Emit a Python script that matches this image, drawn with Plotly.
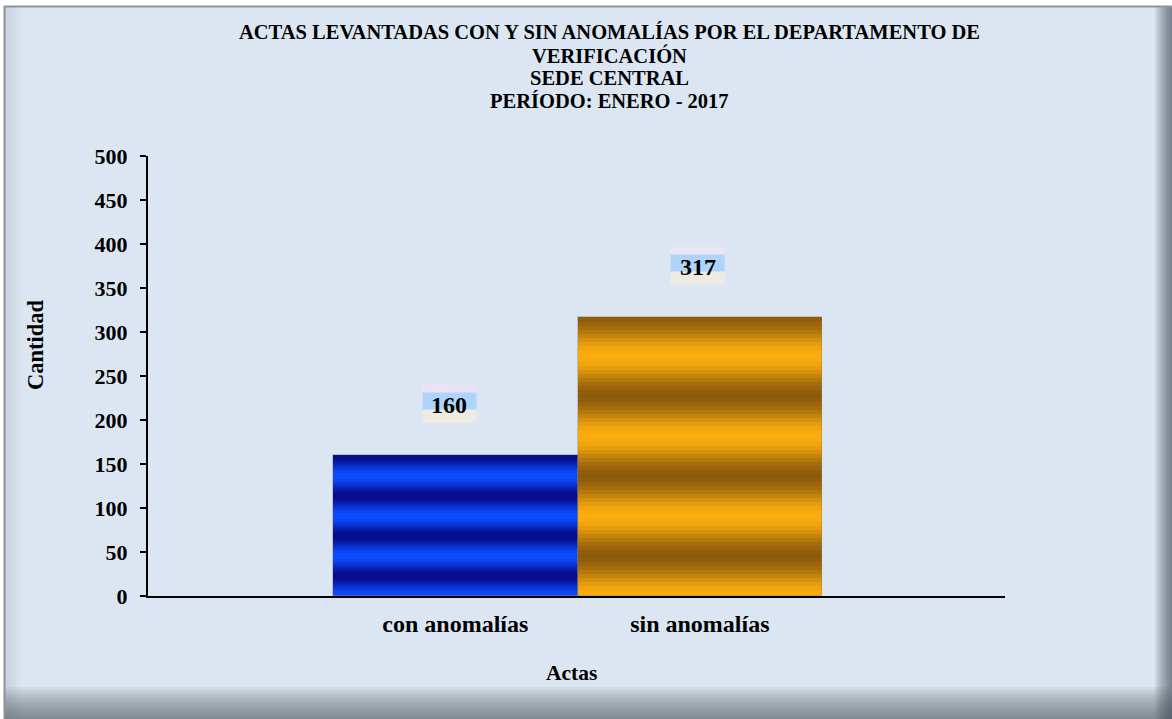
import math
import plotly.graph_objects as go

# ---------------- data ----------------
categories = ["con anomalías", "sin anomalías"]
values = [160, 317]
y_ticks = [0, 50, 100, 150, 200, 250, 300, 350, 400, 450, 500]
title_lines = [
    "ACTAS LEVANTADAS CON Y SIN ANOMALÍAS POR EL DEPARTAMENTO DE",
    "VERIFICACIÓN",
    "SEDE CENTRAL",
    "PERÍODO: ENERO - 2017",
]
x_title = "Actas"
y_title = "Cantidad"

# ---------------- layout geometry ----------------
W, H = 1172, 719
L, R, T, B = 148, 167, 156, 123
PW, PH = W - L - R, H - T - B


def px(x):
    return (x - L) / PW


def py(y):
    return (H - B - y) / PH


FONT = "Liberation Serif, Times New Roman, serif"
BG = "#DCE6F2"

bright = ["#0A4BFF", "#FFAF0B"]
dark = ["#040A88", "#8E5B0A"]
base_col = [bright[0], dark[1]]
stripe_col = [dark[0], bright[1]]
period = [40, 80]

xpos = list(range(len(categories)))

fig = go.Figure()
fig.add_bar(
    x=xpos, y=values, width=1,
    marker=dict(color=base_col, line=dict(width=0)),
    hoverinfo="skip", showlegend=False,
)

# stacked stripe layers -> smooth (cosine-like) horizontal banding
N_LAYERS = 10
prev = 0.0
for k in range(N_LAYERS):
    s = (N_LAYERS - k - 0.5) / N_LAYERS
    d_mid = (N_LAYERS - k - 1) / N_LAYERS
    target = 0.97 * (1 + math.cos(math.pi * max(d_mid, 0.0))) / 2
    target = max(target, prev + 1e-4)
    alpha = 1 - (1 - target) / (1 - prev)
    prev = target
    fig.add_bar(
        x=xpos, y=values, width=1,
        marker=dict(
            color="rgba(0,0,0,0)", line=dict(width=0),
            pattern=dict(shape="-", fillmode="overlay", fgcolor=stripe_col,
                         bgcolor="rgba(0,0,0,0)", fgopacity=min(alpha, 1.0),
                         size=period, solidity=s),
        ),
        hoverinfo="skip", showlegend=False,
    )
# thin outline on top
fig.add_bar(
    x=xpos, y=values, width=1,
    marker=dict(color="rgba(0,0,0,0)", line=dict(width=0.8, color="rgba(140,130,110,0.55)")),
    hoverinfo="skip", showlegend=False,
)

# ---------------- value labels ----------------
xshifts = [-6, -2]
LIFT = 52
bands = [(8, 14.5, "#ECE3F6"), (17, 2.0, "#AED4F9"), (12, -12.5, "#EEECE2")]
annotations = []
for i, v in enumerate(values):
    for h, off, col in bands:
        annotations.append(dict(
            x=xpos[i], y=v, xref="x", yref="y", text=" ", showarrow=False,
            width=53, height=h, bgcolor=col, borderpad=0,
            font=dict(size=4), xanchor="center", yanchor="middle",
            xshift=xshifts[i], yshift=LIFT + off,
        ))
    annotations.append(dict(
        x=xpos[i], y=v, xref="x", yref="y", text=str(v), showarrow=False,
        font=dict(family=FONT, size=24, color="black", weight="bold"),
        xanchor="center", yanchor="middle",
        xshift=xshifts[i], yshift=LIFT - 1.5,
    ))

# title lines (tight line spacing as in the original)
for j, line in enumerate(title_lines):
    annotations.append(dict(
        x=px(609), y=py(32 + 23 * j), xref="paper", yref="paper",
        text=line, showarrow=False, xanchor="center", yanchor="middle",
        font=dict(family=FONT, size=20.5, color="black", weight="bold"),
    ))

# axis titles
annotations.append(dict(
    x=px(571), y=py(673), xref="paper", yref="paper", text=x_title,
    showarrow=False, xanchor="center", yanchor="middle",
    font=dict(family=FONT, size=21.5, color="black", weight="bold"),
))
annotations.append(dict(
    x=px(35), y=py(344), xref="paper", yref="paper", text=y_title,
    showarrow=False, xanchor="center", yanchor="middle", textangle=-90,
    font=dict(family=FONT, size=22.5, color="black", weight="bold"),
))

# ---------------- frame / shadow shapes ----------------
shapes = [
    dict(type="rect", xref="paper", yref="paper", layer="below",
         x0=px(4), x1=px(W), y0=py(H), y1=py(6),
         fillcolor=BG, line=dict(width=0)),
]
for k in range(6):
    shapes.append(dict(type="rect", xref="paper", yref="paper", layer="below",
                       x0=px(5), x1=px(6 + 3 * k), y0=py(H), y1=py(7),
                       fillcolor="rgba(150,160,175,0.05)", line=dict(width=0)))
shapes += [
    dict(type="line", xref="paper", yref="paper", layer="below",
         x0=px(4.5), x1=px(4.5), y0=py(H), y1=py(6),
         line=dict(color="#8E9196", width=2)),
    dict(type="line", xref="paper", yref="paper", layer="below",
         x0=px(4), x1=px(W), y0=py(6.5), y1=py(6.5),
         line=dict(color="#8E9196", width=2)),
]
for k in range(12):
    y0 = 687 + k * 2.7
    shapes.append(dict(type="rect", xref="paper", yref="paper", layer="below",
                       x0=px(5.5), x1=px(W), y0=py(H), y1=py(y0),
                       fillcolor="rgba(70,78,90,0.07)", line=dict(width=0)))
for k in range(10):
    x0 = 1155 + k * 1.7
    shapes.append(dict(type="rect", xref="paper", yref="paper", layer="below",
                       x0=px(x0), x1=px(W), y0=py(H), y1=py(7.5),
                       fillcolor="rgba(70,78,90,0.09)", line=dict(width=0)))

fig.update_layout(
    width=W, height=H,
    margin=dict(l=L, r=R, t=T, b=B, autoexpand=False),
    paper_bgcolor="white",
    plot_bgcolor="rgba(0,0,0,0)",
    barmode="overlay",
    bargap=0,
    showlegend=False,
    font=dict(family=FONT, color="black"),
    xaxis=dict(
        range=[-1.257, 2.248], tickvals=xpos, ticktext=categories,
        showline=True, linecolor="black", linewidth=2,
        ticks="", showgrid=False, zeroline=False,
        tickfont=dict(family=FONT, size=24, color="black", weight="bold"),
        ticklabelstandoff=5, fixedrange=True, automargin=False,
    ),
    yaxis=dict(
        range=[0, 500], tickvals=y_ticks,
        showline=True, linecolor="black", linewidth=2,
        ticks="outside", ticklen=6, tickwidth=1.5, tickcolor="black",
        showgrid=False, zeroline=False,
        tickfont=dict(family=FONT, size=22, color="black", weight="bold"),
        ticklabelstandoff=8, fixedrange=True, automargin=False,
    ),
    annotations=annotations,
    shapes=shapes,
)

fig.write_html(
    "out.html",
    config={"displayModeBar": False},
    post_script="document.body.style.margin='0';document.body.style.padding='0';"
                "document.body.style.overflow='hidden';",
)
